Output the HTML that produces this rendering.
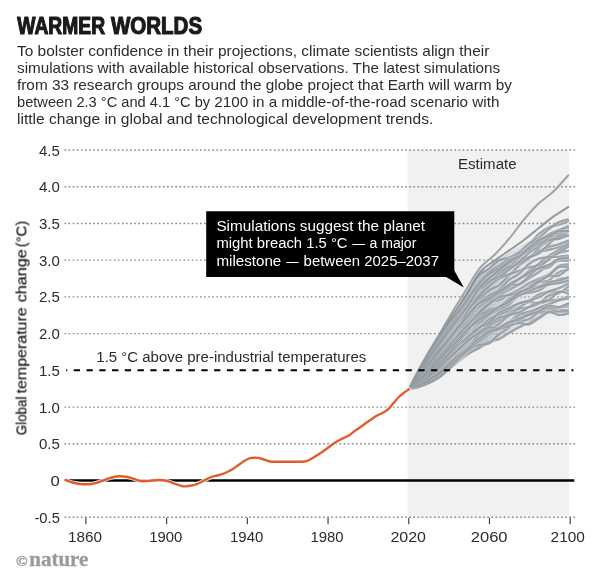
<!DOCTYPE html>
<html lang="en"><head><meta charset="utf-8"><title>Warmer worlds</title>
<style>
html,body{margin:0;padding:0;background:#fff;}
body{width:600px;height:583px;overflow:hidden;font-family:"Liberation Sans",sans-serif;}
svg{display:block;}
text{filter:url(#noaa);}
text{font-family:"Liberation Sans",sans-serif;fill:#2c2c2c;}
.t13{font-size:14px;}
.body{font-size:14.3px;}
.title{font-weight:bold;font-size:23.7px;fill:#1a1a1a;}
.logo text{font-family:"Liberation Serif",serif;font-weight:bold;fill:#9b9b9b;}
.white text{fill:#fff;}
</style></head><body>
<svg width="600" height="583" viewBox="0 0 600 583">
<rect width="600" height="583" fill="#fff"/>
<text class="title" y="34.3" stroke="#1a1a1a" stroke-width="1.15" stroke-linejoin="round"><tspan x="17.3" textLength="87.8" lengthAdjust="spacingAndGlyphs">WARMER</tspan> <tspan x="110.9" textLength="91.2" lengthAdjust="spacingAndGlyphs">WORLDS</tspan></text>
<g class="body">
<text x="17" y="55.7" textLength="472.3" lengthAdjust="spacingAndGlyphs">To bolster confidence in their projections, climate scientists align their</text>
<text x="17" y="72.8" textLength="483.2" lengthAdjust="spacingAndGlyphs">simulations with available historical observations. The latest simulations</text>
<text x="17" y="89.9" textLength="495.0" lengthAdjust="spacingAndGlyphs">from 33 research groups around the globe project that Earth will warm by</text>
<text y="107.0"><tspan x="17" textLength="193.2" lengthAdjust="spacingAndGlyphs">between 2.3 °C and 4.1 °C by</tspan> <tspan x="214.3" textLength="285.2" lengthAdjust="spacingAndGlyphs">2100 in a middle-of-the-road scenario with</tspan></text>
<text x="17" y="124.1" textLength="416.3" lengthAdjust="spacingAndGlyphs">little change in global and technological development trends.</text>
</g>
<rect x="407.6" y="150" width="161.4" height="367.3" fill="#f1f1f1"/>
<g stroke="#858585" stroke-width="1.35" stroke-dasharray="1.6 2.505" fill="none"><line x1="64.5" x2="575.2" y1="150.02" y2="150.02"/><line x1="64.5" x2="575.2" y1="186.74" y2="186.74"/><line x1="64.5" x2="575.2" y1="223.46" y2="223.46"/><line x1="64.5" x2="575.2" y1="260.18" y2="260.18"/><line x1="64.5" x2="575.2" y1="296.90" y2="296.90"/><line x1="64.5" x2="575.2" y1="333.62" y2="333.62"/><line x1="64.5" x2="575.2" y1="407.06" y2="407.06"/><line x1="64.5" x2="575.2" y1="443.78" y2="443.78"/><line x1="64.5" x2="575.2" y1="517.22" y2="517.22"/></g>
<g stroke="#333" stroke-width="1.1"><line x1="85.90" x2="85.90" y1="517.8" y2="524.2"/><line x1="166.62" x2="166.62" y1="517.8" y2="524.2"/><line x1="247.33" x2="247.33" y1="517.8" y2="524.2"/><line x1="328.05" x2="328.05" y1="517.8" y2="524.2"/><line x1="408.77" x2="408.77" y1="517.8" y2="524.2"/><line x1="489.48" x2="489.48" y1="517.8" y2="524.2"/><line x1="570.20" x2="570.20" y1="517.8" y2="524.2"/></g>
<g class="t13"><text x="38.9" y="155.52" textLength="20.9" lengthAdjust="spacingAndGlyphs">4.5</text><text x="38.9" y="192.24" textLength="20.9" lengthAdjust="spacingAndGlyphs">4.0</text><text x="38.9" y="228.96" textLength="20.9" lengthAdjust="spacingAndGlyphs">3.5</text><text x="38.9" y="265.68" textLength="20.9" lengthAdjust="spacingAndGlyphs">3.0</text><text x="38.9" y="302.40" textLength="20.9" lengthAdjust="spacingAndGlyphs">2.5</text><text x="38.9" y="339.12" textLength="20.9" lengthAdjust="spacingAndGlyphs">2.0</text><text x="38.9" y="375.84" textLength="20.9" lengthAdjust="spacingAndGlyphs">1.5</text><text x="38.9" y="412.56" textLength="20.9" lengthAdjust="spacingAndGlyphs">1.0</text><text x="38.9" y="449.28" textLength="20.9" lengthAdjust="spacingAndGlyphs">0.5</text><text x="50.6" y="486.00" textLength="9.3" lengthAdjust="spacingAndGlyphs">0</text><text x="34.4" y="522.72" textLength="25.5" lengthAdjust="spacingAndGlyphs">-0.5</text><text x="68.0" y="541.5" textLength="33.9" lengthAdjust="spacingAndGlyphs">1860</text><text x="149.2" y="541.5" textLength="33.2" lengthAdjust="spacingAndGlyphs">1900</text><text x="230.0" y="541.5" textLength="33.3" lengthAdjust="spacingAndGlyphs">1940</text><text x="310.4" y="541.5" textLength="33.2" lengthAdjust="spacingAndGlyphs">1980</text><text x="390.4" y="541.5" textLength="35.6" lengthAdjust="spacingAndGlyphs">2020</text><text x="470.7" y="541.5" textLength="36.9" lengthAdjust="spacingAndGlyphs">2060</text><text x="550.6" y="541.5" textLength="34.3" lengthAdjust="spacingAndGlyphs">2100</text>
<text x="458.0" y="169.3" textLength="58.6" lengthAdjust="spacingAndGlyphs">Estimate</text>
<text x="96.3" y="362.4" textLength="270" lengthAdjust="spacingAndGlyphs">1.5 °C above pre-industrial temperatures</text>
<text transform="translate(26.4,434.5) rotate(-90)" style="fill:#111" stroke="#111" stroke-width="0.15"><tspan x="-0.7" textLength="38.6" lengthAdjust="spacingAndGlyphs">Global</tspan> <tspan x="41.0" textLength="86.2" lengthAdjust="spacingAndGlyphs">temperature</tspan> <tspan x="132.2" textLength="53.2" lengthAdjust="spacingAndGlyphs">change</tspan> <tspan x="187.2" textLength="26.6" lengthAdjust="spacingAndGlyphs">(°C)</tspan></text>
</g>
<line x1="65.4" x2="574.3" y1="480.5" y2="480.5" stroke="#000" stroke-width="2.6"/>
<defs><filter id="noaa" x="-5%" y="-20%" width="110%" height="140%" color-interpolation-filters="sRGB"><feOffset dx="0" dy="0"/></filter><linearGradient id="wg" gradientUnits="userSpaceOnUse" x1="409" y1="0" x2="569" y2="0"><stop offset="0" stop-color="#8f979e" stop-opacity="0.9"/><stop offset="0.45" stop-color="#959da4" stop-opacity="0.65"/><stop offset="0.75" stop-color="#b9c1c8" stop-opacity="0.2"/><stop offset="1" stop-color="#c5ccd3" stop-opacity="0.08"/></linearGradient><linearGradient id="wg2" gradientUnits="userSpaceOnUse" x1="409" y1="0" x2="462" y2="0"><stop offset="0" stop-color="#9199a0" stop-opacity="0.85"/><stop offset="0.5" stop-color="#949ca3" stop-opacity="0.5"/><stop offset="1" stop-color="#9aa2a9" stop-opacity="0"/></linearGradient></defs>
<path d="M408.8,389.2 L414,378.5 L420,367 L427,354 L433.3,344 L441,331 L450,318.5 L466.7,293.5 L480,274 L494.6,262 L509.2,252.5 L523.7,243.5 L538.3,233.5 L552.9,224.5 L569,217 L569,313 L550,317.5 L530,322.5 L516.7,329 L505,335.5 L496.7,340.8 L485,346 L471.7,353.3 L458.3,362.7 L449,370.4 L445,374 L438.3,378.7 L431.7,382.7 L418.3,387.3 L408.8,389.2Z" fill="url(#wg)"/>
<g fill="none" stroke="#8f979e" stroke-opacity="0.86" stroke-width="2.45" stroke-linejoin="round" stroke-linecap="butt"><path d="M408.8,389.2C410.5,386.0 415.5,376.2 418.8,370.2C422.1,364.1 425.5,358.2 428.8,352.7C432.1,347.2 435.5,342.0 438.8,337.0C442.2,331.9 445.5,327.2 448.8,322.4C452.2,317.7 455.5,313.0 458.8,308.4C462.2,303.9 465.5,299.5 468.8,295.0C472.2,290.5 475.5,285.1 478.8,281.6C482.2,278.0 485.5,275.7 488.9,273.6C492.2,271.5 495.5,270.8 498.9,269.0C502.2,267.2 505.5,265.2 508.9,262.8C512.2,260.4 515.5,257.5 518.9,254.6C522.2,251.7 525.5,248.9 528.9,245.4C532.2,242.0 535.5,236.9 538.9,233.9C542.2,230.9 545.6,228.9 548.9,227.4C552.2,225.8 555.6,225.6 558.9,224.6C562.2,223.5 567.2,221.6 568.9,221.1" stroke="#fff" stroke-opacity="0.4" stroke-width="3.5"/><path d="M408.8,389.2C410.5,386.0 415.5,376.2 418.8,370.2C422.1,364.1 425.5,358.2 428.8,352.7C432.1,347.2 435.5,342.0 438.8,337.0C442.2,331.9 445.5,327.2 448.8,322.4C452.2,317.7 455.5,313.0 458.8,308.4C462.2,303.9 465.5,299.5 468.8,295.0C472.2,290.5 475.5,285.1 478.8,281.6C482.2,278.0 485.5,275.7 488.9,273.6C492.2,271.5 495.5,270.8 498.9,269.0C502.2,267.2 505.5,265.2 508.9,262.8C512.2,260.4 515.5,257.5 518.9,254.6C522.2,251.7 525.5,248.9 528.9,245.4C532.2,242.0 535.5,236.9 538.9,233.9C542.2,230.9 545.6,228.9 548.9,227.4C552.2,225.8 555.6,225.6 558.9,224.6C562.2,223.5 567.2,221.6 568.9,221.1"/><path d="M408.8,389.2C410.5,386.6 415.5,378.7 418.8,373.7C422.1,368.7 425.5,363.8 428.8,359.2C432.1,354.6 435.5,350.3 438.8,346.0C442.2,341.6 445.5,337.6 448.8,333.2C452.2,328.8 455.5,324.1 458.8,319.7C462.2,315.3 465.5,310.9 468.8,306.9C472.2,302.8 475.5,299.1 478.8,295.3C482.2,291.4 485.5,287.1 488.9,283.6C492.2,280.1 495.5,276.9 498.9,274.3C502.2,271.6 505.5,270.3 508.9,267.7C512.2,265.2 515.5,260.9 518.9,259.1C522.2,257.3 525.5,258.2 528.9,257.0C532.2,255.7 535.5,253.0 538.9,251.8C542.2,250.6 545.6,250.5 548.9,249.7C552.2,249.0 555.6,248.5 558.9,247.2C562.2,246.0 567.2,243.3 568.9,242.5" stroke="#fff" stroke-opacity="0.4" stroke-width="3.5"/><path d="M408.8,389.2C410.5,386.6 415.5,378.7 418.8,373.7C422.1,368.7 425.5,363.8 428.8,359.2C432.1,354.6 435.5,350.3 438.8,346.0C442.2,341.6 445.5,337.6 448.8,333.2C452.2,328.8 455.5,324.1 458.8,319.7C462.2,315.3 465.5,310.9 468.8,306.9C472.2,302.8 475.5,299.1 478.8,295.3C482.2,291.4 485.5,287.1 488.9,283.6C492.2,280.1 495.5,276.9 498.9,274.3C502.2,271.6 505.5,270.3 508.9,267.7C512.2,265.2 515.5,260.9 518.9,259.1C522.2,257.3 525.5,258.2 528.9,257.0C532.2,255.7 535.5,253.0 538.9,251.8C542.2,250.6 545.6,250.5 548.9,249.7C552.2,249.0 555.6,248.5 558.9,247.2C562.2,246.0 567.2,243.3 568.9,242.5"/><path d="M408.8,389.2C410.5,386.7 415.5,379.0 418.8,374.1C422.1,369.2 425.5,364.6 428.8,360.0C432.1,355.4 435.5,350.6 438.8,346.4C442.2,342.2 445.5,339.0 448.8,334.9C452.2,330.7 455.5,325.8 458.8,321.5C462.2,317.1 465.5,312.4 468.8,308.7C472.2,305.0 475.5,302.5 478.8,299.4C482.2,296.4 485.5,292.7 488.9,290.4C492.2,288.1 495.5,287.8 498.9,285.4C502.2,283.0 505.5,279.0 508.9,275.7C512.2,272.5 515.5,268.5 518.9,265.7C522.2,262.9 525.5,261.7 528.9,258.8C532.2,255.8 535.5,250.9 538.9,247.9C542.2,244.9 545.6,242.8 548.9,240.7C552.2,238.7 555.6,237.2 558.9,235.5C562.2,233.8 567.2,231.3 568.9,230.5" stroke="#fff" stroke-opacity="0.4" stroke-width="3.5"/><path d="M408.8,389.2C410.5,386.7 415.5,379.0 418.8,374.1C422.1,369.2 425.5,364.6 428.8,360.0C432.1,355.4 435.5,350.6 438.8,346.4C442.2,342.2 445.5,339.0 448.8,334.9C452.2,330.7 455.5,325.8 458.8,321.5C462.2,317.1 465.5,312.4 468.8,308.7C472.2,305.0 475.5,302.5 478.8,299.4C482.2,296.4 485.5,292.7 488.9,290.4C492.2,288.1 495.5,287.8 498.9,285.4C502.2,283.0 505.5,279.0 508.9,275.7C512.2,272.5 515.5,268.5 518.9,265.7C522.2,262.9 525.5,261.7 528.9,258.8C532.2,255.8 535.5,250.9 538.9,247.9C542.2,244.9 545.6,242.8 548.9,240.7C552.2,238.7 555.6,237.2 558.9,235.5C562.2,233.8 567.2,231.3 568.9,230.5"/><path d="M408.8,389.2C410.5,387.3 415.5,381.7 418.8,378.0C422.1,374.4 425.5,370.8 428.8,367.2C432.1,363.7 435.5,360.4 438.8,356.7C442.2,353.0 445.5,349.0 448.8,345.1C452.2,341.1 455.5,336.8 458.8,332.9C462.2,328.9 465.5,324.9 468.8,321.4C472.2,318.0 475.5,315.4 478.8,312.2C482.2,309.0 485.5,304.4 488.9,302.4C492.2,300.4 495.5,301.5 498.9,300.2C502.2,298.9 505.5,296.3 508.9,294.6C512.2,292.8 515.5,291.7 518.9,289.8C522.2,288.0 525.5,285.2 528.9,283.4C532.2,281.5 535.5,280.2 538.9,278.7C542.2,277.2 545.6,276.4 548.9,274.3C552.2,272.2 555.6,267.6 558.9,265.9C562.2,264.3 567.2,264.6 568.9,264.3" stroke="#fff" stroke-opacity="0.4" stroke-width="3.5"/><path d="M408.8,389.2C410.5,387.3 415.5,381.7 418.8,378.0C422.1,374.4 425.5,370.8 428.8,367.2C432.1,363.7 435.5,360.4 438.8,356.7C442.2,353.0 445.5,349.0 448.8,345.1C452.2,341.1 455.5,336.8 458.8,332.9C462.2,328.9 465.5,324.9 468.8,321.4C472.2,318.0 475.5,315.4 478.8,312.2C482.2,309.0 485.5,304.4 488.9,302.4C492.2,300.4 495.5,301.5 498.9,300.2C502.2,298.9 505.5,296.3 508.9,294.6C512.2,292.8 515.5,291.7 518.9,289.8C522.2,288.0 525.5,285.2 528.9,283.4C532.2,281.5 535.5,280.2 538.9,278.7C542.2,277.2 545.6,276.4 548.9,274.3C552.2,272.2 555.6,267.6 558.9,265.9C562.2,264.3 567.2,264.6 568.9,264.3"/><path d="M408.8,389.2C410.5,386.7 415.5,379.3 418.8,374.4C422.1,369.4 425.5,364.3 428.8,359.5C432.1,354.6 435.5,349.8 438.8,345.3C442.2,340.8 445.5,337.2 448.8,332.6C452.2,328.0 455.5,322.2 458.8,317.8C462.2,313.3 465.5,309.8 468.8,306.0C472.2,302.2 475.5,298.4 478.8,294.9C482.2,291.4 485.5,288.3 488.9,285.0C492.2,281.8 495.5,278.5 498.9,275.3C502.2,272.2 505.5,268.2 508.9,266.1C512.2,264.1 515.5,264.4 518.9,262.9C522.2,261.5 525.5,259.5 528.9,257.6C532.2,255.6 535.5,252.9 538.9,251.1C542.2,249.3 545.6,247.9 548.9,246.8C552.2,245.7 555.6,245.4 558.9,244.3C562.2,243.2 567.2,241.0 568.9,240.3" stroke="#fff" stroke-opacity="0.4" stroke-width="3.5"/><path d="M408.8,389.2C410.5,386.7 415.5,379.3 418.8,374.4C422.1,369.4 425.5,364.3 428.8,359.5C432.1,354.6 435.5,349.8 438.8,345.3C442.2,340.8 445.5,337.2 448.8,332.6C452.2,328.0 455.5,322.2 458.8,317.8C462.2,313.3 465.5,309.8 468.8,306.0C472.2,302.2 475.5,298.4 478.8,294.9C482.2,291.4 485.5,288.3 488.9,285.0C492.2,281.8 495.5,278.5 498.9,275.3C502.2,272.2 505.5,268.2 508.9,266.1C512.2,264.1 515.5,264.4 518.9,262.9C522.2,261.5 525.5,259.5 528.9,257.6C532.2,255.6 535.5,252.9 538.9,251.1C542.2,249.3 545.6,247.9 548.9,246.8C552.2,245.7 555.6,245.4 558.9,244.3C562.2,243.2 567.2,241.0 568.9,240.3"/><path d="M408.8,389.2C410.5,388.4 415.5,385.9 418.8,384.3C422.1,382.6 425.5,381.1 428.8,379.1C432.1,377.1 435.5,374.6 438.8,372.0C442.2,369.5 445.5,366.9 448.8,364.0C452.2,361.1 455.5,357.6 458.8,354.8C462.2,352.0 465.5,349.4 468.8,347.3C472.2,345.3 475.5,345.0 478.8,342.5C482.2,340.0 485.5,334.7 488.9,332.3C492.2,330.0 495.5,329.9 498.9,328.4C502.2,326.8 505.5,325.4 508.9,323.0C512.2,320.6 515.5,315.2 518.9,313.9C522.2,312.5 525.5,315.3 528.9,315.0C532.2,314.7 535.5,312.9 538.9,312.0C542.2,311.2 545.6,310.1 548.9,309.8C552.2,309.5 555.6,310.4 558.9,310.4C562.2,310.4 567.2,309.9 568.9,309.9" stroke="#fff" stroke-opacity="0.4" stroke-width="3.5"/><path d="M408.8,389.2C410.5,388.4 415.5,385.9 418.8,384.3C422.1,382.6 425.5,381.1 428.8,379.1C432.1,377.1 435.5,374.6 438.8,372.0C442.2,369.5 445.5,366.9 448.8,364.0C452.2,361.1 455.5,357.6 458.8,354.8C462.2,352.0 465.5,349.4 468.8,347.3C472.2,345.3 475.5,345.0 478.8,342.5C482.2,340.0 485.5,334.7 488.9,332.3C492.2,330.0 495.5,329.9 498.9,328.4C502.2,326.8 505.5,325.4 508.9,323.0C512.2,320.6 515.5,315.2 518.9,313.9C522.2,312.5 525.5,315.3 528.9,315.0C532.2,314.7 535.5,312.9 538.9,312.0C542.2,311.2 545.6,310.1 548.9,309.8C552.2,309.5 555.6,310.4 558.9,310.4C562.2,310.4 567.2,309.9 568.9,309.9"/><path d="M408.8,389.2C410.5,386.9 415.5,380.1 418.8,375.6C422.1,371.2 425.5,366.9 428.8,362.6C432.1,358.2 435.5,353.7 438.8,349.6C442.2,345.5 445.5,342.0 448.8,337.9C452.2,333.8 455.5,329.8 458.8,325.0C462.2,320.3 465.5,314.1 468.8,309.4C472.2,304.7 475.5,300.6 478.8,296.8C482.2,293.1 485.5,289.7 488.9,286.7C492.2,283.6 495.5,280.7 498.9,278.7C502.2,276.6 505.5,275.7 508.9,274.4C512.2,273.0 515.5,271.9 518.9,270.8C522.2,269.6 525.5,268.4 528.9,267.4C532.2,266.5 535.5,266.8 538.9,265.1C542.2,263.5 545.6,259.7 548.9,257.6C552.2,255.6 555.6,253.9 558.9,252.8C562.2,251.6 567.2,251.0 568.9,250.6" stroke="#fff" stroke-opacity="0.4" stroke-width="3.5"/><path d="M408.8,389.2C410.5,386.9 415.5,380.1 418.8,375.6C422.1,371.2 425.5,366.9 428.8,362.6C432.1,358.2 435.5,353.7 438.8,349.6C442.2,345.5 445.5,342.0 448.8,337.9C452.2,333.8 455.5,329.8 458.8,325.0C462.2,320.3 465.5,314.1 468.8,309.4C472.2,304.7 475.5,300.6 478.8,296.8C482.2,293.1 485.5,289.7 488.9,286.7C492.2,283.6 495.5,280.7 498.9,278.7C502.2,276.6 505.5,275.7 508.9,274.4C512.2,273.0 515.5,271.9 518.9,270.8C522.2,269.6 525.5,268.4 528.9,267.4C532.2,266.5 535.5,266.8 538.9,265.1C542.2,263.5 545.6,259.7 548.9,257.6C552.2,255.6 555.6,253.9 558.9,252.8C562.2,251.6 567.2,251.0 568.9,250.6"/><path d="M408.8,389.2C410.5,388.7 415.5,387.4 418.8,386.1C422.1,384.7 425.5,383.2 428.8,381.3C432.1,379.4 435.5,377.3 438.8,374.8C442.2,372.3 445.5,369.3 448.8,366.3C452.2,363.3 455.5,359.7 458.8,356.7C462.2,353.7 465.5,350.6 468.8,348.1C472.2,345.5 475.5,343.7 478.8,341.4C482.2,339.1 485.5,336.7 488.9,334.3C492.2,332.0 495.5,329.1 498.9,327.2C502.2,325.3 505.5,323.9 508.9,322.9C512.2,322.0 515.5,322.2 518.9,321.5C522.2,320.9 525.5,320.5 528.9,319.1C532.2,317.6 535.5,314.1 538.9,312.9C542.2,311.7 545.6,312.7 548.9,311.8C552.2,310.9 555.6,308.5 558.9,307.6C562.2,306.6 567.2,306.5 568.9,306.2" stroke="#fff" stroke-opacity="0.4" stroke-width="3.5"/><path d="M408.8,389.2C410.5,388.7 415.5,387.4 418.8,386.1C422.1,384.7 425.5,383.2 428.8,381.3C432.1,379.4 435.5,377.3 438.8,374.8C442.2,372.3 445.5,369.3 448.8,366.3C452.2,363.3 455.5,359.7 458.8,356.7C462.2,353.7 465.5,350.6 468.8,348.1C472.2,345.5 475.5,343.7 478.8,341.4C482.2,339.1 485.5,336.7 488.9,334.3C492.2,332.0 495.5,329.1 498.9,327.2C502.2,325.3 505.5,323.9 508.9,322.9C512.2,322.0 515.5,322.2 518.9,321.5C522.2,320.9 525.5,320.5 528.9,319.1C532.2,317.6 535.5,314.1 538.9,312.9C542.2,311.7 545.6,312.7 548.9,311.8C552.2,310.9 555.6,308.5 558.9,307.6C562.2,306.6 567.2,306.5 568.9,306.2"/><path d="M408.8,389.2C410.5,387.2 415.5,381.2 418.8,377.3C422.1,373.3 425.5,369.5 428.8,365.6C432.1,361.6 435.5,357.2 438.8,353.4C442.2,349.6 445.5,346.6 448.8,342.8C452.2,339.1 455.5,334.4 458.8,330.7C462.2,327.1 465.5,324.1 468.8,320.9C472.2,317.7 475.5,314.6 478.8,311.5C482.2,308.5 485.5,305.1 488.9,302.6C492.2,300.0 495.5,298.4 498.9,296.3C502.2,294.1 505.5,291.7 508.9,289.8C512.2,287.9 515.5,286.7 518.9,284.8C522.2,282.9 525.5,280.7 528.9,278.5C532.2,276.4 535.5,274.3 538.9,272.0C542.2,269.8 545.6,267.0 548.9,265.2C552.2,263.3 555.6,261.6 558.9,260.9C562.2,260.2 567.2,260.9 568.9,260.9" stroke="#fff" stroke-opacity="0.4" stroke-width="3.5"/><path d="M408.8,389.2C410.5,387.2 415.5,381.2 418.8,377.3C422.1,373.3 425.5,369.5 428.8,365.6C432.1,361.6 435.5,357.2 438.8,353.4C442.2,349.6 445.5,346.6 448.8,342.8C452.2,339.1 455.5,334.4 458.8,330.7C462.2,327.1 465.5,324.1 468.8,320.9C472.2,317.7 475.5,314.6 478.8,311.5C482.2,308.5 485.5,305.1 488.9,302.6C492.2,300.0 495.5,298.4 498.9,296.3C502.2,294.1 505.5,291.7 508.9,289.8C512.2,287.9 515.5,286.7 518.9,284.8C522.2,282.9 525.5,280.7 528.9,278.5C532.2,276.4 535.5,274.3 538.9,272.0C542.2,269.8 545.6,267.0 548.9,265.2C552.2,263.3 555.6,261.6 558.9,260.9C562.2,260.2 567.2,260.9 568.9,260.9"/><path d="M408.8,389.2C410.5,388.6 415.5,386.8 418.8,385.5C422.1,384.2 425.5,383.1 428.8,381.4C432.1,379.7 435.5,377.9 438.8,375.4C442.2,372.9 445.5,369.2 448.8,366.4C452.2,363.6 455.5,361.0 458.8,358.8C462.2,356.5 465.5,354.9 468.8,353.1C472.2,351.3 475.5,350.0 478.8,348.1C482.2,346.2 485.5,343.3 488.9,341.8C492.2,340.3 495.5,340.5 498.9,339.1C502.2,337.6 505.5,334.9 508.9,333.0C512.2,331.0 515.5,328.9 518.9,327.3C522.2,325.6 525.5,324.7 528.9,323.0C532.2,321.2 535.5,318.8 538.9,317.0C542.2,315.2 545.6,312.8 548.9,311.9C552.2,311.0 555.6,311.7 558.9,311.6C562.2,311.5 567.2,311.4 568.9,311.3" stroke="#fff" stroke-opacity="0.4" stroke-width="3.5"/><path d="M408.8,389.2C410.5,388.6 415.5,386.8 418.8,385.5C422.1,384.2 425.5,383.1 428.8,381.4C432.1,379.7 435.5,377.9 438.8,375.4C442.2,372.9 445.5,369.2 448.8,366.4C452.2,363.6 455.5,361.0 458.8,358.8C462.2,356.5 465.5,354.9 468.8,353.1C472.2,351.3 475.5,350.0 478.8,348.1C482.2,346.2 485.5,343.3 488.9,341.8C492.2,340.3 495.5,340.5 498.9,339.1C502.2,337.6 505.5,334.9 508.9,333.0C512.2,331.0 515.5,328.9 518.9,327.3C522.2,325.6 525.5,324.7 528.9,323.0C532.2,321.2 535.5,318.8 538.9,317.0C542.2,315.2 545.6,312.8 548.9,311.9C552.2,311.0 555.6,311.7 558.9,311.6C562.2,311.5 567.2,311.4 568.9,311.3"/><path d="M408.8,389.2C410.5,388.2 415.5,385.5 418.8,383.4C422.1,381.3 425.5,378.8 428.8,376.3C432.1,373.8 435.5,371.4 438.8,368.4C442.2,365.5 445.5,362.0 448.8,358.6C452.2,355.3 455.5,351.6 458.8,348.5C462.2,345.3 465.5,342.9 468.8,340.0C472.2,337.1 475.5,333.4 478.8,331.1C482.2,328.8 485.5,327.9 488.9,326.1C492.2,324.3 495.5,322.5 498.9,320.3C502.2,318.1 505.5,315.0 508.9,312.9C512.2,310.7 515.5,309.2 518.9,307.4C522.2,305.6 525.5,302.8 528.9,302.1C532.2,301.5 535.5,303.5 538.9,303.3C542.2,303.1 545.6,301.5 548.9,300.9C552.2,300.2 555.6,300.2 558.9,299.4C562.2,298.6 567.2,296.8 568.9,296.2" stroke="#fff" stroke-opacity="0.4" stroke-width="3.5"/><path d="M408.8,389.2C410.5,388.2 415.5,385.5 418.8,383.4C422.1,381.3 425.5,378.8 428.8,376.3C432.1,373.8 435.5,371.4 438.8,368.4C442.2,365.5 445.5,362.0 448.8,358.6C452.2,355.3 455.5,351.6 458.8,348.5C462.2,345.3 465.5,342.9 468.8,340.0C472.2,337.1 475.5,333.4 478.8,331.1C482.2,328.8 485.5,327.9 488.9,326.1C492.2,324.3 495.5,322.5 498.9,320.3C502.2,318.1 505.5,315.0 508.9,312.9C512.2,310.7 515.5,309.2 518.9,307.4C522.2,305.6 525.5,302.8 528.9,302.1C532.2,301.5 535.5,303.5 538.9,303.3C542.2,303.1 545.6,301.5 548.9,300.9C552.2,300.2 555.6,300.2 558.9,299.4C562.2,298.6 567.2,296.8 568.9,296.2"/><path d="M408.8,389.2C410.5,388.7 415.5,387.5 418.8,386.3C422.1,385.2 425.5,383.8 428.8,382.2C432.1,380.6 435.5,379.2 438.8,376.7C442.2,374.2 445.5,370.2 448.8,367.3C452.2,364.3 455.5,361.7 458.8,358.9C462.2,356.1 465.5,352.6 468.8,350.3C472.2,348.0 475.5,346.1 478.8,345.0C482.2,343.9 485.5,345.2 488.9,343.5C492.2,341.7 495.5,337.2 498.9,334.5C502.2,331.8 505.5,330.5 508.9,327.3C512.2,324.0 515.5,317.7 518.9,315.1C522.2,312.5 525.5,312.7 528.9,311.6C532.2,310.5 535.5,309.2 538.9,308.6C542.2,308.0 545.6,308.2 548.9,308.0C552.2,307.8 555.6,308.5 558.9,307.7C562.2,306.8 567.2,303.8 568.9,303.0" stroke="#fff" stroke-opacity="0.4" stroke-width="3.5"/><path d="M408.8,389.2C410.5,388.7 415.5,387.5 418.8,386.3C422.1,385.2 425.5,383.8 428.8,382.2C432.1,380.6 435.5,379.2 438.8,376.7C442.2,374.2 445.5,370.2 448.8,367.3C452.2,364.3 455.5,361.7 458.8,358.9C462.2,356.1 465.5,352.6 468.8,350.3C472.2,348.0 475.5,346.1 478.8,345.0C482.2,343.9 485.5,345.2 488.9,343.5C492.2,341.7 495.5,337.2 498.9,334.5C502.2,331.8 505.5,330.5 508.9,327.3C512.2,324.0 515.5,317.7 518.9,315.1C522.2,312.5 525.5,312.7 528.9,311.6C532.2,310.5 535.5,309.2 538.9,308.6C542.2,308.0 545.6,308.2 548.9,308.0C552.2,307.8 555.6,308.5 558.9,307.7C562.2,306.8 567.2,303.8 568.9,303.0"/><path d="M408.8,389.2C410.5,388.1 415.5,384.7 418.8,382.3C422.1,379.9 425.5,377.4 428.8,374.8C432.1,372.3 435.5,369.8 438.8,366.9C442.2,364.0 445.5,360.9 448.8,357.5C452.2,354.1 455.5,349.8 458.8,346.7C462.2,343.7 465.5,342.0 468.8,339.0C472.2,336.0 475.5,332.0 478.8,328.8C482.2,325.5 485.5,321.9 488.9,319.5C492.2,317.2 495.5,316.4 498.9,314.8C502.2,313.2 505.5,312.0 508.9,310.1C512.2,308.2 515.5,304.9 518.9,303.4C522.2,301.9 525.5,302.7 528.9,301.1C532.2,299.6 535.5,295.9 538.9,294.3C542.2,292.7 545.6,292.1 548.9,291.7C552.2,291.2 555.6,292.1 558.9,291.8C562.2,291.6 567.2,290.5 568.9,290.2" stroke="#fff" stroke-opacity="0.4" stroke-width="3.5"/><path d="M408.8,389.2C410.5,388.1 415.5,384.7 418.8,382.3C422.1,379.9 425.5,377.4 428.8,374.8C432.1,372.3 435.5,369.8 438.8,366.9C442.2,364.0 445.5,360.9 448.8,357.5C452.2,354.1 455.5,349.8 458.8,346.7C462.2,343.7 465.5,342.0 468.8,339.0C472.2,336.0 475.5,332.0 478.8,328.8C482.2,325.5 485.5,321.9 488.9,319.5C492.2,317.2 495.5,316.4 498.9,314.8C502.2,313.2 505.5,312.0 508.9,310.1C512.2,308.2 515.5,304.9 518.9,303.4C522.2,301.9 525.5,302.7 528.9,301.1C532.2,299.6 535.5,295.9 538.9,294.3C542.2,292.7 545.6,292.1 548.9,291.7C552.2,291.2 555.6,292.1 558.9,291.8C562.2,291.6 567.2,290.5 568.9,290.2"/><path d="M408.8,389.2C410.5,386.2 415.5,376.8 418.8,371.0C422.1,365.2 425.5,359.6 428.8,354.5C432.1,349.3 435.5,344.5 438.8,339.9C442.2,335.2 445.5,331.3 448.8,326.6C452.2,321.9 455.5,316.3 458.8,311.7C462.2,307.1 465.5,303.1 468.8,299.1C472.2,295.1 475.5,290.8 478.8,287.8C482.2,284.8 485.5,283.3 488.9,281.0C492.2,278.8 495.5,276.5 498.9,274.3C502.2,272.1 505.5,270.7 508.9,267.8C512.2,264.8 515.5,260.1 518.9,256.6C522.2,253.1 525.5,249.3 528.9,246.8C532.2,244.4 535.5,243.7 538.9,242.0C542.2,240.3 545.6,237.5 548.9,236.9C552.2,236.3 555.6,239.6 558.9,238.5C562.2,237.4 567.2,231.7 568.9,230.4" stroke="#fff" stroke-opacity="0.4" stroke-width="3.5"/><path d="M408.8,389.2C410.5,386.2 415.5,376.8 418.8,371.0C422.1,365.2 425.5,359.6 428.8,354.5C432.1,349.3 435.5,344.5 438.8,339.9C442.2,335.2 445.5,331.3 448.8,326.6C452.2,321.9 455.5,316.3 458.8,311.7C462.2,307.1 465.5,303.1 468.8,299.1C472.2,295.1 475.5,290.8 478.8,287.8C482.2,284.8 485.5,283.3 488.9,281.0C492.2,278.8 495.5,276.5 498.9,274.3C502.2,272.1 505.5,270.7 508.9,267.8C512.2,264.8 515.5,260.1 518.9,256.6C522.2,253.1 525.5,249.3 528.9,246.8C532.2,244.4 535.5,243.7 538.9,242.0C542.2,240.3 545.6,237.5 548.9,236.9C552.2,236.3 555.6,239.6 558.9,238.5C562.2,237.4 567.2,231.7 568.9,230.4"/><path d="M408.8,389.2C410.5,388.2 415.5,385.2 418.8,383.2C422.1,381.1 425.5,379.3 428.8,376.9C432.1,374.4 435.5,371.3 438.8,368.3C442.2,365.3 445.5,362.1 448.8,359.0C452.2,355.9 455.5,352.7 458.8,349.6C462.2,346.6 465.5,343.3 468.8,340.5C472.2,337.7 475.5,335.6 478.8,333.0C482.2,330.3 485.5,327.1 488.9,324.5C492.2,321.9 495.5,319.1 498.9,317.6C502.2,316.1 505.5,316.7 508.9,315.3C512.2,313.8 515.5,310.1 518.9,308.8C522.2,307.5 525.5,308.2 528.9,307.3C532.2,306.5 535.5,305.7 538.9,303.7C542.2,301.8 545.6,297.2 548.9,295.4C552.2,293.7 555.6,294.8 558.9,293.2C562.2,291.7 567.2,287.3 568.9,286.1" stroke="#fff" stroke-opacity="0.4" stroke-width="3.5"/><path d="M408.8,389.2C410.5,388.2 415.5,385.2 418.8,383.2C422.1,381.1 425.5,379.3 428.8,376.9C432.1,374.4 435.5,371.3 438.8,368.3C442.2,365.3 445.5,362.1 448.8,359.0C452.2,355.9 455.5,352.7 458.8,349.6C462.2,346.6 465.5,343.3 468.8,340.5C472.2,337.7 475.5,335.6 478.8,333.0C482.2,330.3 485.5,327.1 488.9,324.5C492.2,321.9 495.5,319.1 498.9,317.6C502.2,316.1 505.5,316.7 508.9,315.3C512.2,313.8 515.5,310.1 518.9,308.8C522.2,307.5 525.5,308.2 528.9,307.3C532.2,306.5 535.5,305.7 538.9,303.7C542.2,301.8 545.6,297.2 548.9,295.4C552.2,293.7 555.6,294.8 558.9,293.2C562.2,291.7 567.2,287.3 568.9,286.1"/><path d="M408.8,389.2C410.5,388.5 415.5,386.3 418.8,384.8C422.1,383.2 425.5,381.6 428.8,379.7C432.1,377.8 435.5,375.8 438.8,373.1C442.2,370.4 445.5,366.6 448.8,363.6C452.2,360.7 455.5,358.2 458.8,355.5C462.2,352.7 465.5,350.5 468.8,347.1C472.2,343.6 475.5,337.8 478.8,334.9C482.2,332.1 485.5,331.8 488.9,330.0C492.2,328.1 495.5,326.5 498.9,324.0C502.2,321.6 505.5,317.1 508.9,315.1C512.2,313.2 515.5,313.8 518.9,312.4C522.2,311.1 525.5,308.7 528.9,307.0C532.2,305.4 535.5,303.6 538.9,302.4C542.2,301.2 545.6,301.7 548.9,299.9C552.2,298.2 555.6,292.8 558.9,291.8C562.2,290.8 567.2,293.4 568.9,293.7" stroke="#fff" stroke-opacity="0.4" stroke-width="3.5"/><path d="M408.8,389.2C410.5,388.5 415.5,386.3 418.8,384.8C422.1,383.2 425.5,381.6 428.8,379.7C432.1,377.8 435.5,375.8 438.8,373.1C442.2,370.4 445.5,366.6 448.8,363.6C452.2,360.7 455.5,358.2 458.8,355.5C462.2,352.7 465.5,350.5 468.8,347.1C472.2,343.6 475.5,337.8 478.8,334.9C482.2,332.1 485.5,331.8 488.9,330.0C492.2,328.1 495.5,326.5 498.9,324.0C502.2,321.6 505.5,317.1 508.9,315.1C512.2,313.2 515.5,313.8 518.9,312.4C522.2,311.1 525.5,308.7 528.9,307.0C532.2,305.4 535.5,303.6 538.9,302.4C542.2,301.2 545.6,301.7 548.9,299.9C552.2,298.2 555.6,292.8 558.9,291.8C562.2,290.8 567.2,293.4 568.9,293.7"/><path d="M408.8,389.2C410.5,387.4 415.5,381.9 418.8,378.3C422.1,374.8 425.5,371.2 428.8,367.7C432.1,364.1 435.5,360.5 438.8,356.9C442.2,353.2 445.5,349.6 448.8,345.9C452.2,342.2 455.5,338.1 458.8,334.5C462.2,331.0 465.5,328.3 468.8,324.6C472.2,320.9 475.5,316.0 478.8,312.5C482.2,309.0 485.5,306.4 488.9,303.7C492.2,301.1 495.5,299.1 498.9,296.4C502.2,293.6 505.5,290.0 508.9,287.1C512.2,284.3 515.5,281.9 518.9,279.2C522.2,276.6 525.5,273.6 528.9,271.0C532.2,268.5 535.5,266.4 538.9,263.9C542.2,261.4 545.6,258.1 548.9,255.8C552.2,253.5 555.6,251.9 558.9,249.9C562.2,247.9 567.2,244.9 568.9,243.9" stroke="#fff" stroke-opacity="0.4" stroke-width="3.5"/><path d="M408.8,389.2C410.5,387.4 415.5,381.9 418.8,378.3C422.1,374.8 425.5,371.2 428.8,367.7C432.1,364.1 435.5,360.5 438.8,356.9C442.2,353.2 445.5,349.6 448.8,345.9C452.2,342.2 455.5,338.1 458.8,334.5C462.2,331.0 465.5,328.3 468.8,324.6C472.2,320.9 475.5,316.0 478.8,312.5C482.2,309.0 485.5,306.4 488.9,303.7C492.2,301.1 495.5,299.1 498.9,296.4C502.2,293.6 505.5,290.0 508.9,287.1C512.2,284.3 515.5,281.9 518.9,279.2C522.2,276.6 525.5,273.6 528.9,271.0C532.2,268.5 535.5,266.4 538.9,263.9C542.2,261.4 545.6,258.1 548.9,255.8C552.2,253.5 555.6,251.9 558.9,249.9C562.2,247.9 567.2,244.9 568.9,243.9"/><path d="M408.8,389.2C410.5,387.9 415.5,384.2 418.8,381.6C422.1,379.0 425.5,376.4 428.8,373.6C432.1,370.7 435.5,367.7 438.8,364.6C442.2,361.4 445.5,357.8 448.8,354.5C452.2,351.2 455.5,347.8 458.8,344.7C462.2,341.7 465.5,339.0 468.8,336.2C472.2,333.4 475.5,330.0 478.8,327.7C482.2,325.5 485.5,325.2 488.9,322.7C492.2,320.2 495.5,315.1 498.9,312.7C502.2,310.2 505.5,309.7 508.9,308.2C512.2,306.6 515.5,304.7 518.9,303.4C522.2,302.2 525.5,301.7 528.9,300.7C532.2,299.6 535.5,298.7 538.9,297.2C542.2,295.6 545.6,292.9 548.9,291.4C552.2,289.9 555.6,289.6 558.9,288.2C562.2,286.8 567.2,284.0 568.9,283.2" stroke="#fff" stroke-opacity="0.4" stroke-width="3.5"/><path d="M408.8,389.2C410.5,387.9 415.5,384.2 418.8,381.6C422.1,379.0 425.5,376.4 428.8,373.6C432.1,370.7 435.5,367.7 438.8,364.6C442.2,361.4 445.5,357.8 448.8,354.5C452.2,351.2 455.5,347.8 458.8,344.7C462.2,341.7 465.5,339.0 468.8,336.2C472.2,333.4 475.5,330.0 478.8,327.7C482.2,325.5 485.5,325.2 488.9,322.7C492.2,320.2 495.5,315.1 498.9,312.7C502.2,310.2 505.5,309.7 508.9,308.2C512.2,306.6 515.5,304.7 518.9,303.4C522.2,302.2 525.5,301.7 528.9,300.7C532.2,299.6 535.5,298.7 538.9,297.2C542.2,295.6 545.6,292.9 548.9,291.4C552.2,289.9 555.6,289.6 558.9,288.2C562.2,286.8 567.2,284.0 568.9,283.2"/><path d="M408.8,389.2C410.5,387.6 415.5,382.7 418.8,379.4C422.1,376.2 425.5,372.8 428.8,369.6C432.1,366.4 435.5,363.6 438.8,360.1C442.2,356.7 445.5,352.8 448.8,349.0C452.2,345.3 455.5,341.4 458.8,337.9C462.2,334.4 465.5,331.4 468.8,328.1C472.2,324.8 475.5,320.7 478.8,318.0C482.2,315.2 485.5,313.2 488.9,311.6C492.2,310.0 495.5,309.7 498.9,308.4C502.2,307.0 505.5,305.7 508.9,303.4C512.2,301.2 515.5,297.3 518.9,294.7C522.2,292.2 525.5,290.3 528.9,288.2C532.2,286.1 535.5,283.5 538.9,282.2C542.2,280.9 545.6,282.0 548.9,280.3C552.2,278.6 555.6,274.0 558.9,272.2C562.2,270.3 567.2,269.5 568.9,269.0" stroke="#fff" stroke-opacity="0.4" stroke-width="3.5"/><path d="M408.8,389.2C410.5,387.6 415.5,382.7 418.8,379.4C422.1,376.2 425.5,372.8 428.8,369.6C432.1,366.4 435.5,363.6 438.8,360.1C442.2,356.7 445.5,352.8 448.8,349.0C452.2,345.3 455.5,341.4 458.8,337.9C462.2,334.4 465.5,331.4 468.8,328.1C472.2,324.8 475.5,320.7 478.8,318.0C482.2,315.2 485.5,313.2 488.9,311.6C492.2,310.0 495.5,309.7 498.9,308.4C502.2,307.0 505.5,305.7 508.9,303.4C512.2,301.2 515.5,297.3 518.9,294.7C522.2,292.2 525.5,290.3 528.9,288.2C532.2,286.1 535.5,283.5 538.9,282.2C542.2,280.9 545.6,282.0 548.9,280.3C552.2,278.6 555.6,274.0 558.9,272.2C562.2,270.3 567.2,269.5 568.9,269.0"/><path d="M408.8,389.2C410.5,388.1 415.5,384.7 418.8,382.4C422.1,380.1 425.5,377.9 428.8,375.4C432.1,372.9 435.5,370.5 438.8,367.5C442.2,364.6 445.5,360.7 448.8,357.6C452.2,354.6 455.5,352.2 458.8,349.2C462.2,346.2 465.5,342.4 468.8,339.8C472.2,337.1 475.5,335.3 478.8,333.2C482.2,331.2 485.5,328.2 488.9,327.4C492.2,326.6 495.5,329.2 498.9,328.5C502.2,327.9 505.5,325.3 508.9,323.6C512.2,321.9 515.5,319.8 518.9,318.2C522.2,316.6 525.5,315.6 528.9,313.9C532.2,312.2 535.5,309.5 538.9,307.9C542.2,306.3 545.6,305.4 548.9,304.2C552.2,302.9 555.6,301.3 558.9,300.3C562.2,299.4 567.2,298.7 568.9,298.3" stroke="#fff" stroke-opacity="0.4" stroke-width="3.5"/><path d="M408.8,389.2C410.5,388.1 415.5,384.7 418.8,382.4C422.1,380.1 425.5,377.9 428.8,375.4C432.1,372.9 435.5,370.5 438.8,367.5C442.2,364.6 445.5,360.7 448.8,357.6C452.2,354.6 455.5,352.2 458.8,349.2C462.2,346.2 465.5,342.4 468.8,339.8C472.2,337.1 475.5,335.3 478.8,333.2C482.2,331.2 485.5,328.2 488.9,327.4C492.2,326.6 495.5,329.2 498.9,328.5C502.2,327.9 505.5,325.3 508.9,323.6C512.2,321.9 515.5,319.8 518.9,318.2C522.2,316.6 525.5,315.6 528.9,313.9C532.2,312.2 535.5,309.5 538.9,307.9C542.2,306.3 545.6,305.4 548.9,304.2C552.2,302.9 555.6,301.3 558.9,300.3C562.2,299.4 567.2,298.7 568.9,298.3"/><path d="M408.8,389.2C410.5,387.7 415.5,383.0 418.8,380.0C422.1,377.0 425.5,374.1 428.8,371.0C432.1,367.9 435.5,364.6 438.8,361.3C442.2,358.0 445.5,354.9 448.8,351.2C452.2,347.5 455.5,342.8 458.8,339.1C462.2,335.5 465.5,331.8 468.8,329.1C472.2,326.3 475.5,324.8 478.8,322.5C482.2,320.2 485.5,317.5 488.9,315.3C492.2,313.1 495.5,311.0 498.9,309.2C502.2,307.4 505.5,306.7 508.9,304.4C512.2,302.0 515.5,297.0 518.9,295.1C522.2,293.2 525.5,293.7 528.9,292.9C532.2,292.1 535.5,291.9 538.9,290.4C542.2,288.9 545.6,285.7 548.9,283.9C552.2,282.0 555.6,280.3 558.9,279.3C562.2,278.3 567.2,278.1 568.9,277.8" stroke="#fff" stroke-opacity="0.4" stroke-width="3.5"/><path d="M408.8,389.2C410.5,387.7 415.5,383.0 418.8,380.0C422.1,377.0 425.5,374.1 428.8,371.0C432.1,367.9 435.5,364.6 438.8,361.3C442.2,358.0 445.5,354.9 448.8,351.2C452.2,347.5 455.5,342.8 458.8,339.1C462.2,335.5 465.5,331.8 468.8,329.1C472.2,326.3 475.5,324.8 478.8,322.5C482.2,320.2 485.5,317.5 488.9,315.3C492.2,313.1 495.5,311.0 498.9,309.2C502.2,307.4 505.5,306.7 508.9,304.4C512.2,302.0 515.5,297.0 518.9,295.1C522.2,293.2 525.5,293.7 528.9,292.9C532.2,292.1 535.5,291.9 538.9,290.4C542.2,288.9 545.6,285.7 548.9,283.9C552.2,282.0 555.6,280.3 558.9,279.3C562.2,278.3 567.2,278.1 568.9,277.8"/><path d="M408.8,389.2C410.5,387.1 415.5,380.7 418.8,376.6C422.1,372.4 425.5,368.2 428.8,364.1C432.1,360.1 435.5,356.0 438.8,352.1C442.2,348.2 445.5,344.8 448.8,341.0C452.2,337.1 455.5,332.7 458.8,328.9C462.2,325.1 465.5,321.6 468.8,318.0C472.2,314.4 475.5,310.0 478.8,307.1C482.2,304.2 485.5,302.5 488.9,300.6C492.2,298.6 495.5,297.9 498.9,295.4C502.2,293.0 505.5,287.5 508.9,285.7C512.2,283.8 515.5,285.7 518.9,284.3C522.2,282.8 525.5,279.6 528.9,276.8C532.2,274.0 535.5,270.3 538.9,267.4C542.2,264.6 545.6,262.0 548.9,259.5C552.2,257.1 555.6,254.7 558.9,252.5C562.2,250.3 567.2,247.2 568.9,246.1" stroke="#fff" stroke-opacity="0.4" stroke-width="3.5"/><path d="M408.8,389.2C410.5,387.1 415.5,380.7 418.8,376.6C422.1,372.4 425.5,368.2 428.8,364.1C432.1,360.1 435.5,356.0 438.8,352.1C442.2,348.2 445.5,344.8 448.8,341.0C452.2,337.1 455.5,332.7 458.8,328.9C462.2,325.1 465.5,321.6 468.8,318.0C472.2,314.4 475.5,310.0 478.8,307.1C482.2,304.2 485.5,302.5 488.9,300.6C492.2,298.6 495.5,297.9 498.9,295.4C502.2,293.0 505.5,287.5 508.9,285.7C512.2,283.8 515.5,285.7 518.9,284.3C522.2,282.8 525.5,279.6 528.9,276.8C532.2,274.0 535.5,270.3 538.9,267.4C542.2,264.6 545.6,262.0 548.9,259.5C552.2,257.1 555.6,254.7 558.9,252.5C562.2,250.3 567.2,247.2 568.9,246.1"/><path d="M408.8,389.2C410.5,388.8 415.5,388.0 418.8,387.0C422.1,385.9 425.5,384.6 428.8,383.1C432.1,381.6 435.5,380.0 438.8,377.7C442.2,375.4 445.5,372.3 448.8,369.2C452.2,366.1 455.5,362.2 458.8,359.1C462.2,356.0 465.5,353.4 468.8,350.4C472.2,347.4 475.5,344.0 478.8,341.1C482.2,338.1 485.5,334.8 488.9,332.9C492.2,330.9 495.5,330.7 498.9,329.6C502.2,328.5 505.5,327.1 508.9,326.0C512.2,324.9 515.5,323.4 518.9,323.1C522.2,322.9 525.5,325.1 528.9,324.3C532.2,323.5 535.5,320.4 538.9,318.3C542.2,316.3 545.6,312.5 548.9,312.0C552.2,311.4 555.6,314.8 558.9,315.0C562.2,315.3 567.2,313.6 568.9,313.3" stroke="#fff" stroke-opacity="0.4" stroke-width="3.5"/><path d="M408.8,389.2C410.5,388.8 415.5,388.0 418.8,387.0C422.1,385.9 425.5,384.6 428.8,383.1C432.1,381.6 435.5,380.0 438.8,377.7C442.2,375.4 445.5,372.3 448.8,369.2C452.2,366.1 455.5,362.2 458.8,359.1C462.2,356.0 465.5,353.4 468.8,350.4C472.2,347.4 475.5,344.0 478.8,341.1C482.2,338.1 485.5,334.8 488.9,332.9C492.2,330.9 495.5,330.7 498.9,329.6C502.2,328.5 505.5,327.1 508.9,326.0C512.2,324.9 515.5,323.4 518.9,323.1C522.2,322.9 525.5,325.1 528.9,324.3C532.2,323.5 535.5,320.4 538.9,318.3C542.2,316.3 545.6,312.5 548.9,312.0C552.2,311.4 555.6,314.8 558.9,315.0C562.2,315.3 567.2,313.6 568.9,313.3"/><path d="M408.8,389.2C410.5,385.9 415.5,375.9 418.8,369.6C422.1,363.4 425.5,357.4 428.8,351.8C432.1,346.1 435.5,340.8 438.8,335.8C442.2,330.8 445.5,326.5 448.8,321.7C452.2,317.0 455.5,312.7 458.8,307.5C462.2,302.4 465.5,296.1 468.8,290.8C472.2,285.4 475.5,279.0 478.8,275.4C482.2,271.7 485.5,271.4 488.9,268.9C492.2,266.3 495.5,262.1 498.9,260.3C502.2,258.4 505.5,259.0 508.9,257.7C512.2,256.4 515.5,254.6 518.9,252.3C522.2,250.0 525.5,246.2 528.9,243.8C532.2,241.4 535.5,240.4 538.9,237.9C542.2,235.5 545.6,231.7 548.9,229.1C552.2,226.4 555.6,223.6 558.9,222.1C562.2,220.5 567.2,219.9 568.9,219.5" stroke="#fff" stroke-opacity="0.4" stroke-width="3.5"/><path d="M408.8,389.2C410.5,385.9 415.5,375.9 418.8,369.6C422.1,363.4 425.5,357.4 428.8,351.8C432.1,346.1 435.5,340.8 438.8,335.8C442.2,330.8 445.5,326.5 448.8,321.7C452.2,317.0 455.5,312.7 458.8,307.5C462.2,302.4 465.5,296.1 468.8,290.8C472.2,285.4 475.5,279.0 478.8,275.4C482.2,271.7 485.5,271.4 488.9,268.9C492.2,266.3 495.5,262.1 498.9,260.3C502.2,258.4 505.5,259.0 508.9,257.7C512.2,256.4 515.5,254.6 518.9,252.3C522.2,250.0 525.5,246.2 528.9,243.8C532.2,241.4 535.5,240.4 538.9,237.9C542.2,235.5 545.6,231.7 548.9,229.1C552.2,226.4 555.6,223.6 558.9,222.1C562.2,220.5 567.2,219.9 568.9,219.5"/><path d="M408.8,389.2C410.5,387.5 415.5,382.3 418.8,378.8C422.1,375.3 425.5,371.9 428.8,368.3C432.1,364.8 435.5,361.3 438.8,357.7C442.2,354.1 445.5,350.4 448.8,346.6C452.2,342.7 455.5,338.4 458.8,334.7C462.2,331.0 465.5,327.7 468.8,324.1C472.2,320.6 475.5,316.9 478.8,313.6C482.2,310.2 485.5,307.0 488.9,304.3C492.2,301.5 495.5,298.8 498.9,297.2C502.2,295.7 505.5,295.8 508.9,295.0C512.2,294.2 515.5,293.6 518.9,292.3C522.2,290.9 525.5,289.0 528.9,287.0C532.2,285.0 535.5,282.0 538.9,280.2C542.2,278.3 545.6,276.8 548.9,276.1C552.2,275.3 555.6,276.9 558.9,275.6C562.2,274.3 567.2,269.4 568.9,268.1" stroke="#fff" stroke-opacity="0.4" stroke-width="3.5"/><path d="M408.8,389.2C410.5,387.5 415.5,382.3 418.8,378.8C422.1,375.3 425.5,371.9 428.8,368.3C432.1,364.8 435.5,361.3 438.8,357.7C442.2,354.1 445.5,350.4 448.8,346.6C452.2,342.7 455.5,338.4 458.8,334.7C462.2,331.0 465.5,327.7 468.8,324.1C472.2,320.6 475.5,316.9 478.8,313.6C482.2,310.2 485.5,307.0 488.9,304.3C492.2,301.5 495.5,298.8 498.9,297.2C502.2,295.7 505.5,295.8 508.9,295.0C512.2,294.2 515.5,293.6 518.9,292.3C522.2,290.9 525.5,289.0 528.9,287.0C532.2,285.0 535.5,282.0 538.9,280.2C542.2,278.3 545.6,276.8 548.9,276.1C552.2,275.3 555.6,276.9 558.9,275.6C562.2,274.3 567.2,269.4 568.9,268.1"/><path d="M408.8,389.2C410.5,388.5 415.5,386.7 418.8,385.3C422.1,383.8 425.5,382.4 428.8,380.5C432.1,378.5 435.5,376.2 438.8,373.8C442.2,371.3 445.5,368.5 448.8,365.8C452.2,363.1 455.5,360.3 458.8,357.5C462.2,354.6 465.5,351.8 468.8,348.7C472.2,345.5 475.5,341.2 478.8,338.4C482.2,335.7 485.5,333.7 488.9,332.0C492.2,330.3 495.5,330.0 498.9,328.4C502.2,326.7 505.5,323.5 508.9,322.1C512.2,320.6 515.5,320.8 518.9,319.6C522.2,318.4 525.5,316.2 528.9,314.8C532.2,313.5 535.5,312.9 538.9,311.4C542.2,309.9 545.6,306.6 548.9,305.9C552.2,305.1 555.6,307.5 558.9,307.1C562.2,306.6 567.2,304.0 568.9,303.4" stroke="#fff" stroke-opacity="0.4" stroke-width="3.5"/><path d="M408.8,389.2C410.5,388.5 415.5,386.7 418.8,385.3C422.1,383.8 425.5,382.4 428.8,380.5C432.1,378.5 435.5,376.2 438.8,373.8C442.2,371.3 445.5,368.5 448.8,365.8C452.2,363.1 455.5,360.3 458.8,357.5C462.2,354.6 465.5,351.8 468.8,348.7C472.2,345.5 475.5,341.2 478.8,338.4C482.2,335.7 485.5,333.7 488.9,332.0C492.2,330.3 495.5,330.0 498.9,328.4C502.2,326.7 505.5,323.5 508.9,322.1C512.2,320.6 515.5,320.8 518.9,319.6C522.2,318.4 525.5,316.2 528.9,314.8C532.2,313.5 535.5,312.9 538.9,311.4C542.2,309.9 545.6,306.6 548.9,305.9C552.2,305.1 555.6,307.5 558.9,307.1C562.2,306.6 567.2,304.0 568.9,303.4"/><path d="M408.8,389.2C410.5,386.4 415.5,377.6 418.8,372.1C422.1,366.6 425.5,361.2 428.8,356.2C432.1,351.2 435.5,346.6 438.8,342.0C442.2,337.5 445.5,333.3 448.8,328.9C452.2,324.5 455.5,320.3 458.8,315.8C462.2,311.3 465.5,306.1 468.8,301.8C472.2,297.6 475.5,293.3 478.8,290.2C482.2,287.1 485.5,285.9 488.9,283.1C492.2,280.2 495.5,275.8 498.9,273.1C502.2,270.4 505.5,268.3 508.9,266.7C512.2,265.2 515.5,265.5 518.9,263.9C522.2,262.4 525.5,259.2 528.9,257.4C532.2,255.6 535.5,255.6 538.9,253.3C542.2,251.1 545.6,246.9 548.9,244.0C552.2,241.1 555.6,237.4 558.9,236.0C562.2,234.6 567.2,235.6 568.9,235.6" stroke="#fff" stroke-opacity="0.4" stroke-width="3.5"/><path d="M408.8,389.2C410.5,386.4 415.5,377.6 418.8,372.1C422.1,366.6 425.5,361.2 428.8,356.2C432.1,351.2 435.5,346.6 438.8,342.0C442.2,337.5 445.5,333.3 448.8,328.9C452.2,324.5 455.5,320.3 458.8,315.8C462.2,311.3 465.5,306.1 468.8,301.8C472.2,297.6 475.5,293.3 478.8,290.2C482.2,287.1 485.5,285.9 488.9,283.1C492.2,280.2 495.5,275.8 498.9,273.1C502.2,270.4 505.5,268.3 508.9,266.7C512.2,265.2 515.5,265.5 518.9,263.9C522.2,262.4 525.5,259.2 528.9,257.4C532.2,255.6 535.5,255.6 538.9,253.3C542.2,251.1 545.6,246.9 548.9,244.0C552.2,241.1 555.6,237.4 558.9,236.0C562.2,234.6 567.2,235.6 568.9,235.6"/><path d="M408.8,389.2C410.5,387.1 415.5,380.9 418.8,376.9C422.1,372.8 425.5,368.9 428.8,364.7C432.1,360.6 435.5,356.2 438.8,352.0C442.2,347.9 445.5,343.7 448.8,339.6C452.2,335.6 455.5,331.7 458.8,327.8C462.2,324.0 465.5,320.4 468.8,316.6C472.2,312.7 475.5,307.6 478.8,304.8C482.2,302.1 485.5,302.1 488.9,300.1C492.2,298.2 495.5,295.4 498.9,293.2C502.2,290.9 505.5,289.1 508.9,286.6C512.2,284.2 515.5,280.5 518.9,278.5C522.2,276.4 525.5,276.1 528.9,274.5C532.2,272.8 535.5,269.6 538.9,268.5C542.2,267.3 545.6,269.1 548.9,267.5C552.2,265.9 555.6,260.4 558.9,258.9C562.2,257.5 567.2,258.9 568.9,258.9" stroke="#fff" stroke-opacity="0.4" stroke-width="3.5"/><path d="M408.8,389.2C410.5,387.1 415.5,380.9 418.8,376.9C422.1,372.8 425.5,368.9 428.8,364.7C432.1,360.6 435.5,356.2 438.8,352.0C442.2,347.9 445.5,343.7 448.8,339.6C452.2,335.6 455.5,331.7 458.8,327.8C462.2,324.0 465.5,320.4 468.8,316.6C472.2,312.7 475.5,307.6 478.8,304.8C482.2,302.1 485.5,302.1 488.9,300.1C492.2,298.2 495.5,295.4 498.9,293.2C502.2,290.9 505.5,289.1 508.9,286.6C512.2,284.2 515.5,280.5 518.9,278.5C522.2,276.4 525.5,276.1 528.9,274.5C532.2,272.8 535.5,269.6 538.9,268.5C542.2,267.3 545.6,269.1 548.9,267.5C552.2,265.9 555.6,260.4 558.9,258.9C562.2,257.5 567.2,258.9 568.9,258.9"/><path d="M408.8,389.2C410.5,387.9 415.5,384.1 418.8,381.2C422.1,378.4 425.5,375.4 428.8,372.3C432.1,369.2 435.5,365.9 438.8,362.6C442.2,359.3 445.5,356.2 448.8,352.6C452.2,349.1 455.5,345.1 458.8,341.3C462.2,337.5 465.5,333.7 468.8,329.7C472.2,325.6 475.5,320.3 478.8,316.9C482.2,313.6 485.5,311.4 488.9,309.7C492.2,307.9 495.5,308.3 498.9,306.6C502.2,304.8 505.5,301.4 508.9,299.2C512.2,297.0 515.5,295.0 518.9,293.3C522.2,291.6 525.5,290.2 528.9,289.0C532.2,287.8 535.5,287.3 538.9,286.2C542.2,285.1 545.6,283.1 548.9,282.2C552.2,281.3 555.6,281.8 558.9,280.9C562.2,280.1 567.2,277.7 568.9,277.1" stroke="#fff" stroke-opacity="0.4" stroke-width="3.5"/><path d="M408.8,389.2C410.5,387.9 415.5,384.1 418.8,381.2C422.1,378.4 425.5,375.4 428.8,372.3C432.1,369.2 435.5,365.9 438.8,362.6C442.2,359.3 445.5,356.2 448.8,352.6C452.2,349.1 455.5,345.1 458.8,341.3C462.2,337.5 465.5,333.7 468.8,329.7C472.2,325.6 475.5,320.3 478.8,316.9C482.2,313.6 485.5,311.4 488.9,309.7C492.2,307.9 495.5,308.3 498.9,306.6C502.2,304.8 505.5,301.4 508.9,299.2C512.2,297.0 515.5,295.0 518.9,293.3C522.2,291.6 525.5,290.2 528.9,289.0C532.2,287.8 535.5,287.3 538.9,286.2C542.2,285.1 545.6,283.1 548.9,282.2C552.2,281.3 555.6,281.8 558.9,280.9C562.2,280.1 567.2,277.7 568.9,277.1"/><path d="M408.8,389.2C410.5,386.5 415.5,378.1 418.8,372.9C422.1,367.6 425.5,362.4 428.8,357.7C432.1,353.0 435.5,349.0 438.8,344.7C442.2,340.4 445.5,336.3 448.8,331.8C452.2,327.3 455.5,322.4 458.8,317.8C462.2,313.2 465.5,308.8 468.8,304.2C472.2,299.5 475.5,293.8 478.8,290.0C482.2,286.2 485.5,283.5 488.9,281.4C492.2,279.2 495.5,278.8 498.9,276.8C502.2,274.9 505.5,272.2 508.9,269.8C512.2,267.3 515.5,264.9 518.9,262.1C522.2,259.3 525.5,255.7 528.9,253.0C532.2,250.4 535.5,248.1 538.9,245.9C542.2,243.8 545.6,241.3 548.9,240.1C552.2,238.9 555.6,239.6 558.9,238.7C562.2,237.9 567.2,235.7 568.9,235.1" stroke="#fff" stroke-opacity="0.4" stroke-width="3.5"/><path d="M408.8,389.2C410.5,386.5 415.5,378.1 418.8,372.9C422.1,367.6 425.5,362.4 428.8,357.7C432.1,353.0 435.5,349.0 438.8,344.7C442.2,340.4 445.5,336.3 448.8,331.8C452.2,327.3 455.5,322.4 458.8,317.8C462.2,313.2 465.5,308.8 468.8,304.2C472.2,299.5 475.5,293.8 478.8,290.0C482.2,286.2 485.5,283.5 488.9,281.4C492.2,279.2 495.5,278.8 498.9,276.8C502.2,274.9 505.5,272.2 508.9,269.8C512.2,267.3 515.5,264.9 518.9,262.1C522.2,259.3 525.5,255.7 528.9,253.0C532.2,250.4 535.5,248.1 538.9,245.9C542.2,243.8 545.6,241.3 548.9,240.1C552.2,238.9 555.6,239.6 558.9,238.7C562.2,237.9 567.2,235.7 568.9,235.1"/><path d="M408.8,389.2C410.5,386.2 415.5,377.2 418.8,371.4C422.1,365.6 425.5,359.8 428.8,354.4C432.1,349.0 435.5,343.8 438.8,339.0C442.2,334.1 445.5,330.2 448.8,325.5C452.2,320.7 455.5,315.1 458.8,310.6C462.2,306.0 465.5,302.7 468.8,298.1C472.2,293.4 475.5,287.0 478.8,282.7C482.2,278.4 485.5,275.0 488.9,272.2C492.2,269.4 495.5,267.9 498.9,265.8C502.2,263.6 505.5,260.4 508.9,259.1C512.2,257.8 515.5,259.8 518.9,258.0C522.2,256.1 525.5,250.1 528.9,247.9C532.2,245.7 535.5,246.4 538.9,244.7C542.2,243.0 545.6,239.7 548.9,237.8C552.2,235.9 555.6,234.6 558.9,233.2C562.2,231.8 567.2,230.2 568.9,229.7" stroke="#fff" stroke-opacity="0.4" stroke-width="3.5"/><path d="M408.8,389.2C410.5,386.2 415.5,377.2 418.8,371.4C422.1,365.6 425.5,359.8 428.8,354.4C432.1,349.0 435.5,343.8 438.8,339.0C442.2,334.1 445.5,330.2 448.8,325.5C452.2,320.7 455.5,315.1 458.8,310.6C462.2,306.0 465.5,302.7 468.8,298.1C472.2,293.4 475.5,287.0 478.8,282.7C482.2,278.4 485.5,275.0 488.9,272.2C492.2,269.4 495.5,267.9 498.9,265.8C502.2,263.6 505.5,260.4 508.9,259.1C512.2,257.8 515.5,259.8 518.9,258.0C522.2,256.1 525.5,250.1 528.9,247.9C532.2,245.7 535.5,246.4 538.9,244.7C542.2,243.0 545.6,239.7 548.9,237.8C552.2,235.9 555.6,234.6 558.9,233.2C562.2,231.8 567.2,230.2 568.9,229.7"/><path d="M408.8,389.2C410.5,386.3 415.5,377.3 418.8,371.7C422.1,366.2 425.5,361.0 428.8,356.0C432.1,351.1 435.5,346.7 438.8,342.1C442.2,337.5 445.5,333.0 448.8,328.3C452.2,323.7 455.5,318.8 458.8,314.2C462.2,309.7 465.5,305.7 468.8,301.2C472.2,296.6 475.5,290.5 478.8,286.8C482.2,283.1 485.5,281.5 488.9,278.7C492.2,276.0 495.5,272.9 498.9,270.3C502.2,267.8 505.5,266.2 508.9,263.4C512.2,260.7 515.5,256.0 518.9,253.6C522.2,251.2 525.5,251.1 528.9,248.9C532.2,246.8 535.5,243.1 538.9,240.7C542.2,238.3 545.6,236.1 548.9,234.4C552.2,232.6 555.6,231.3 558.9,230.2C562.2,229.0 567.2,228.0 568.9,227.6" stroke="#fff" stroke-opacity="0.4" stroke-width="3.5"/><path d="M408.8,389.2C410.5,386.3 415.5,377.3 418.8,371.7C422.1,366.2 425.5,361.0 428.8,356.0C432.1,351.1 435.5,346.7 438.8,342.1C442.2,337.5 445.5,333.0 448.8,328.3C452.2,323.7 455.5,318.8 458.8,314.2C462.2,309.7 465.5,305.7 468.8,301.2C472.2,296.6 475.5,290.5 478.8,286.8C482.2,283.1 485.5,281.5 488.9,278.7C492.2,276.0 495.5,272.9 498.9,270.3C502.2,267.8 505.5,266.2 508.9,263.4C512.2,260.7 515.5,256.0 518.9,253.6C522.2,251.2 525.5,251.1 528.9,248.9C532.2,246.8 535.5,243.1 538.9,240.7C542.2,238.3 545.6,236.1 548.9,234.4C552.2,232.6 555.6,231.3 558.9,230.2C562.2,229.0 567.2,228.0 568.9,227.6"/><path d="M408.8,389.2C410.5,386.1 415.5,376.5 418.8,370.5C422.1,364.5 425.5,358.8 428.8,353.3C432.1,347.7 435.5,342.3 438.8,337.3C442.2,332.3 445.5,327.4 448.8,323.0C452.2,318.7 455.5,315.5 458.8,311.2C462.2,306.9 465.5,301.7 468.8,297.2C472.2,292.7 475.5,287.9 478.8,284.0C482.2,280.2 485.5,276.7 488.9,274.1C492.2,271.4 495.5,270.6 498.9,268.3C502.2,265.9 505.5,262.1 508.9,260.2C512.2,258.2 515.5,258.0 518.9,256.3C522.2,254.7 525.5,252.5 528.9,250.2C532.2,247.8 535.5,244.6 538.9,242.0C542.2,239.4 545.6,236.6 548.9,234.6C552.2,232.6 555.6,231.5 558.9,230.1C562.2,228.7 567.2,226.7 568.9,226.0" stroke="#fff" stroke-opacity="0.4" stroke-width="3.5"/><path d="M408.8,389.2C410.5,386.1 415.5,376.5 418.8,370.5C422.1,364.5 425.5,358.8 428.8,353.3C432.1,347.7 435.5,342.3 438.8,337.3C442.2,332.3 445.5,327.4 448.8,323.0C452.2,318.7 455.5,315.5 458.8,311.2C462.2,306.9 465.5,301.7 468.8,297.2C472.2,292.7 475.5,287.9 478.8,284.0C482.2,280.2 485.5,276.7 488.9,274.1C492.2,271.4 495.5,270.6 498.9,268.3C502.2,265.9 505.5,262.1 508.9,260.2C512.2,258.2 515.5,258.0 518.9,256.3C522.2,254.7 525.5,252.5 528.9,250.2C532.2,247.8 535.5,244.6 538.9,242.0C542.2,239.4 545.6,236.6 548.9,234.6C552.2,232.6 555.6,231.5 558.9,230.1C562.2,228.7 567.2,226.7 568.9,226.0"/><path d="M408.8,389.2C410.5,386.9 415.5,379.8 418.8,375.3C422.1,370.8 425.5,366.5 428.8,362.3C432.1,358.1 435.5,354.0 438.8,350.0C442.2,346.0 445.5,342.3 448.8,338.3C452.2,334.3 455.5,329.6 458.8,325.8C462.2,322.0 465.5,319.2 468.8,315.5C472.2,311.7 475.5,306.8 478.8,303.5C482.2,300.2 485.5,297.9 488.9,295.7C492.2,293.5 495.5,293.0 498.9,290.3C502.2,287.7 505.5,282.6 508.9,279.9C512.2,277.1 515.5,276.6 518.9,273.9C522.2,271.3 525.5,266.6 528.9,264.0C532.2,261.5 535.5,259.7 538.9,258.6C542.2,257.5 545.6,257.6 548.9,257.2C552.2,256.9 555.6,256.9 558.9,256.7C562.2,256.4 567.2,255.9 568.9,255.7" stroke="#fff" stroke-opacity="0.4" stroke-width="3.5"/><path d="M408.8,389.2C410.5,386.9 415.5,379.8 418.8,375.3C422.1,370.8 425.5,366.5 428.8,362.3C432.1,358.1 435.5,354.0 438.8,350.0C442.2,346.0 445.5,342.3 448.8,338.3C452.2,334.3 455.5,329.6 458.8,325.8C462.2,322.0 465.5,319.2 468.8,315.5C472.2,311.7 475.5,306.8 478.8,303.5C482.2,300.2 485.5,297.9 488.9,295.7C492.2,293.5 495.5,293.0 498.9,290.3C502.2,287.7 505.5,282.6 508.9,279.9C512.2,277.1 515.5,276.6 518.9,273.9C522.2,271.3 525.5,266.6 528.9,264.0C532.2,261.5 535.5,259.7 538.9,258.6C542.2,257.5 545.6,257.6 548.9,257.2C552.2,256.9 555.6,256.9 558.9,256.7C562.2,256.4 567.2,255.9 568.9,255.7"/><path d="M408.8,389.2C410.5,386.6 415.5,378.6 418.8,373.5C422.1,368.3 425.5,363.3 428.8,358.4C432.1,353.5 435.5,348.7 438.8,344.1C442.2,339.6 445.5,335.5 448.8,331.1C452.2,326.8 455.5,322.4 458.8,318.0C462.2,313.5 465.5,309.5 468.8,304.6C472.2,299.7 475.5,292.9 478.8,288.5C482.2,284.1 485.5,281.2 488.9,278.2C492.2,275.2 495.5,273.3 498.9,270.5C502.2,267.8 505.5,264.3 508.9,261.9C512.2,259.6 515.5,258.9 518.9,256.6C522.2,254.3 525.5,250.7 528.9,248.0C532.2,245.2 535.5,241.9 538.9,240.0C542.2,238.0 545.6,237.7 548.9,236.2C552.2,234.7 555.6,231.8 558.9,231.0C562.2,230.2 567.2,231.3 568.9,231.3" stroke="#fff" stroke-opacity="0.4" stroke-width="3.5"/><path d="M408.8,389.2C410.5,386.6 415.5,378.6 418.8,373.5C422.1,368.3 425.5,363.3 428.8,358.4C432.1,353.5 435.5,348.7 438.8,344.1C442.2,339.6 445.5,335.5 448.8,331.1C452.2,326.8 455.5,322.4 458.8,318.0C462.2,313.5 465.5,309.5 468.8,304.6C472.2,299.7 475.5,292.9 478.8,288.5C482.2,284.1 485.5,281.2 488.9,278.2C492.2,275.2 495.5,273.3 498.9,270.5C502.2,267.8 505.5,264.3 508.9,261.9C512.2,259.6 515.5,258.9 518.9,256.6C522.2,254.3 525.5,250.7 528.9,248.0C532.2,245.2 535.5,241.9 538.9,240.0C542.2,238.0 545.6,237.7 548.9,236.2C552.2,234.7 555.6,231.8 558.9,231.0C562.2,230.2 567.2,231.3 568.9,231.3"/><path d="M408.8,389.2C410.5,387.9 415.5,384.0 418.8,381.2C422.1,378.5 425.5,375.5 428.8,372.7C432.1,369.9 435.5,367.5 438.8,364.4C442.2,361.3 445.5,358.1 448.8,354.3C452.2,350.5 455.5,345.7 458.8,341.5C462.2,337.4 465.5,332.9 468.8,329.2C472.2,325.6 475.5,322.5 478.8,319.6C482.2,316.6 485.5,313.7 488.9,311.6C492.2,309.6 495.5,308.6 498.9,307.0C502.2,305.4 505.5,304.0 508.9,302.1C512.2,300.2 515.5,297.4 518.9,295.6C522.2,293.8 525.5,292.8 528.9,291.4C532.2,290.0 535.5,288.4 538.9,287.3C542.2,286.1 545.6,285.2 548.9,284.5C552.2,283.8 555.6,283.8 558.9,283.1C562.2,282.5 567.2,280.9 568.9,280.5" stroke="#fff" stroke-opacity="0.4" stroke-width="3.5"/><path d="M408.8,389.2C410.5,387.9 415.5,384.0 418.8,381.2C422.1,378.5 425.5,375.5 428.8,372.7C432.1,369.9 435.5,367.5 438.8,364.4C442.2,361.3 445.5,358.1 448.8,354.3C452.2,350.5 455.5,345.7 458.8,341.5C462.2,337.4 465.5,332.9 468.8,329.2C472.2,325.6 475.5,322.5 478.8,319.6C482.2,316.6 485.5,313.7 488.9,311.6C492.2,309.6 495.5,308.6 498.9,307.0C502.2,305.4 505.5,304.0 508.9,302.1C512.2,300.2 515.5,297.4 518.9,295.6C522.2,293.8 525.5,292.8 528.9,291.4C532.2,290.0 535.5,288.4 538.9,287.3C542.2,286.1 545.6,285.2 548.9,284.5C552.2,283.8 555.6,283.8 558.9,283.1C562.2,282.5 567.2,280.9 568.9,280.5"/><path d="M408.8,389.2C410.5,387.7 415.5,383.3 418.8,380.2C422.1,377.1 425.5,374.1 428.8,370.8C432.1,367.4 435.5,363.8 438.8,360.2C442.2,356.5 445.5,352.4 448.8,348.9C452.2,345.4 455.5,342.6 458.8,339.1C462.2,335.6 465.5,331.2 468.8,328.0C472.2,324.8 475.5,322.2 478.8,319.8C482.2,317.5 485.5,316.2 488.9,314.0C492.2,311.9 495.5,309.0 498.9,307.0C502.2,304.9 505.5,304.0 508.9,301.6C512.2,299.2 515.5,294.8 518.9,292.6C522.2,290.5 525.5,290.4 528.9,288.5C532.2,286.7 535.5,283.7 538.9,281.5C542.2,279.3 545.6,277.8 548.9,275.4C552.2,273.0 555.6,268.5 558.9,267.1C562.2,265.7 567.2,267.0 568.9,266.9" stroke="#fff" stroke-opacity="0.4" stroke-width="3.5"/><path d="M408.8,389.2C410.5,387.7 415.5,383.3 418.8,380.2C422.1,377.1 425.5,374.1 428.8,370.8C432.1,367.4 435.5,363.8 438.8,360.2C442.2,356.5 445.5,352.4 448.8,348.9C452.2,345.4 455.5,342.6 458.8,339.1C462.2,335.6 465.5,331.2 468.8,328.0C472.2,324.8 475.5,322.2 478.8,319.8C482.2,317.5 485.5,316.2 488.9,314.0C492.2,311.9 495.5,309.0 498.9,307.0C502.2,304.9 505.5,304.0 508.9,301.6C512.2,299.2 515.5,294.8 518.9,292.6C522.2,290.5 525.5,290.4 528.9,288.5C532.2,286.7 535.5,283.7 538.9,281.5C542.2,279.3 545.6,277.8 548.9,275.4C552.2,273.0 555.6,268.5 558.9,267.1C562.2,265.7 567.2,267.0 568.9,266.9"/><path d="M408.8,389.2C410.5,387.0 415.5,380.4 418.8,376.2C422.1,372.0 425.5,368.1 428.8,364.0C432.1,360.0 435.5,355.9 438.8,351.8C442.2,347.8 445.5,343.9 448.8,339.7C452.2,335.4 455.5,330.7 458.8,326.5C462.2,322.2 465.5,317.9 468.8,314.1C472.2,310.2 475.5,305.9 478.8,303.3C482.2,300.7 485.5,300.3 488.9,298.4C492.2,296.6 495.5,294.3 498.9,292.0C502.2,289.7 505.5,286.8 508.9,284.7C512.2,282.5 515.5,281.2 518.9,279.2C522.2,277.2 525.5,274.4 528.9,272.5C532.2,270.6 535.5,269.3 538.9,268.1C542.2,266.8 545.6,266.3 548.9,264.8C552.2,263.4 555.6,260.4 558.9,259.2C562.2,258.0 567.2,257.9 568.9,257.7" stroke="#fff" stroke-opacity="0.4" stroke-width="3.5"/><path d="M408.8,389.2C410.5,387.0 415.5,380.4 418.8,376.2C422.1,372.0 425.5,368.1 428.8,364.0C432.1,360.0 435.5,355.9 438.8,351.8C442.2,347.8 445.5,343.9 448.8,339.7C452.2,335.4 455.5,330.7 458.8,326.5C462.2,322.2 465.5,317.9 468.8,314.1C472.2,310.2 475.5,305.9 478.8,303.3C482.2,300.7 485.5,300.3 488.9,298.4C492.2,296.6 495.5,294.3 498.9,292.0C502.2,289.7 505.5,286.8 508.9,284.7C512.2,282.5 515.5,281.2 518.9,279.2C522.2,277.2 525.5,274.4 528.9,272.5C532.2,270.6 535.5,269.3 538.9,268.1C542.2,266.8 545.6,266.3 548.9,264.8C552.2,263.4 555.6,260.4 558.9,259.2C562.2,258.0 567.2,257.9 568.9,257.7"/><path d="M408.8,389.2C410.7,385.8 415.9,375.7 420.0,368.5C424.1,361.3 428.3,354.2 433.3,346.0C438.3,337.8 444.4,328.2 450.0,319.5C455.6,310.8 461.7,301.9 466.7,294.0C471.7,286.1 475.4,277.8 480.0,272.2C484.6,266.6 489.7,264.2 494.6,260.6C499.5,257.0 504.3,253.8 509.2,250.4C514.0,247.0 518.9,243.8 523.7,240.2C528.6,236.5 533.4,232.4 538.3,228.5C543.2,224.6 547.8,220.6 552.9,216.9C558.0,213.2 566.2,208.3 568.9,206.6" stroke="#8b8f93" stroke-opacity="0.9" stroke-width="2.0"/><path d="M408.8,389.2C410.7,385.7 416.0,375.3 420.0,368.0C424.0,360.7 428.0,354.2 433.0,345.5C438.0,336.8 444.5,325.2 450.0,316.0C455.5,306.8 461.0,298.0 466.0,290.0C471.0,282.0 475.2,273.8 480.0,267.9C484.8,262.0 489.7,259.7 494.6,254.8C499.5,249.9 504.3,244.5 509.2,238.7C514.0,232.9 518.9,225.6 523.7,219.8C528.6,214.0 533.4,208.3 538.3,203.7C543.2,199.1 547.8,196.9 552.9,192.1C558.0,187.2 566.2,177.5 568.9,174.6" stroke="#96999c" stroke-opacity="0.9" stroke-width="2.0"/></g>
<path d="M408.8,389.2 L414,378.5 L420,367 L427,354 L433.3,344 L441,331 L450,318.5 L466.7,293.5 L480,274 L494.6,262 L509.2,252.5 L523.7,243.5 L538.3,233.5 L552.9,224.5 L569,217 L569,313 L550,317.5 L530,322.5 L516.7,329 L505,335.5 L496.7,340.8 L485,346 L471.7,353.3 L458.3,362.7 L449,370.4 L445,374 L438.3,378.7 L431.7,382.7 L418.3,387.3 L408.8,389.2Z" fill="url(#wg2)"/>
<line x1="66.2" x2="573.4" y1="370.2" y2="370.2" stroke="#000" stroke-width="2.1" stroke-dasharray="6.3 6.46" stroke-dashoffset="5.2"/>
<path d="M65.5,480.0C66.7,480.4 69.7,481.8 72.5,482.5C75.3,483.2 79.2,484.0 82.5,484.2C85.8,484.5 89.4,484.2 92.5,483.8C95.6,483.2 98.3,482.2 101.2,481.2C104.2,480.3 107.1,478.8 110.0,478.0C112.9,477.2 115.8,476.4 118.8,476.2C121.7,476.1 124.8,476.5 127.5,477.0C130.2,477.5 132.5,478.5 135.0,479.2C137.5,480.0 139.6,481.0 142.5,481.2C145.4,481.5 149.6,480.7 152.5,480.5C155.4,480.3 157.5,479.9 160.0,480.0C162.5,480.1 165.0,480.6 167.5,481.2C170.0,481.9 172.5,482.9 175.0,483.8C177.5,484.6 180.0,485.9 182.5,486.2C185.0,486.6 187.5,486.2 190.0,485.8C192.5,485.4 195.0,484.7 197.5,483.8C200.0,482.8 202.7,481.1 205.0,480.0C207.3,478.9 209.2,477.8 211.2,477.0C213.3,476.2 215.2,476.2 217.5,475.5C219.8,474.8 222.7,473.9 225.0,473.0C227.3,472.1 229.2,471.2 231.2,470.0C233.3,468.8 235.4,467.2 237.5,465.8C239.6,464.3 241.7,462.5 243.8,461.2C245.8,460.0 247.9,458.8 250.0,458.2C252.1,457.7 254.2,457.6 256.2,457.8C258.3,457.9 260.2,458.4 262.5,459.0C264.8,459.6 267.5,461.0 270.0,461.5C272.5,462.0 274.2,461.7 277.5,461.8C280.8,461.8 285.4,461.8 290.0,461.8C294.6,461.7 301.7,461.9 305.0,461.5C308.3,461.1 307.9,460.6 310.0,459.5C312.1,458.4 315.0,456.6 317.5,455.0C320.0,453.4 322.4,451.9 325.0,450.0C327.6,448.1 330.8,445.5 333.3,443.8C335.8,442.1 337.5,441.0 340.0,439.7C342.5,438.4 345.8,437.3 348.3,435.8C350.8,434.3 352.5,432.6 355.0,430.8C357.5,429.0 360.8,426.8 363.3,425.0C365.8,423.2 367.8,421.8 370.0,420.3C372.2,418.8 374.5,417.1 376.7,415.8C378.9,414.5 381.4,413.6 383.3,412.5C385.2,411.4 386.6,410.7 388.3,409.2C390.0,407.7 391.6,405.2 393.3,403.3C395.0,401.4 396.6,399.2 398.3,397.5C400.0,395.8 401.6,394.7 403.3,393.3C405.1,391.9 407.9,389.9 408.8,389.2" fill="none" stroke="#fff" stroke-width="4.2" stroke-linejoin="round" stroke-linecap="round" opacity="0.85"/>
<path d="M65.5,480.0C66.7,480.4 69.7,481.8 72.5,482.5C75.3,483.2 79.2,484.0 82.5,484.2C85.8,484.5 89.4,484.2 92.5,483.8C95.6,483.2 98.3,482.2 101.2,481.2C104.2,480.3 107.1,478.8 110.0,478.0C112.9,477.2 115.8,476.4 118.8,476.2C121.7,476.1 124.8,476.5 127.5,477.0C130.2,477.5 132.5,478.5 135.0,479.2C137.5,480.0 139.6,481.0 142.5,481.2C145.4,481.5 149.6,480.7 152.5,480.5C155.4,480.3 157.5,479.9 160.0,480.0C162.5,480.1 165.0,480.6 167.5,481.2C170.0,481.9 172.5,482.9 175.0,483.8C177.5,484.6 180.0,485.9 182.5,486.2C185.0,486.6 187.5,486.2 190.0,485.8C192.5,485.4 195.0,484.7 197.5,483.8C200.0,482.8 202.7,481.1 205.0,480.0C207.3,478.9 209.2,477.8 211.2,477.0C213.3,476.2 215.2,476.2 217.5,475.5C219.8,474.8 222.7,473.9 225.0,473.0C227.3,472.1 229.2,471.2 231.2,470.0C233.3,468.8 235.4,467.2 237.5,465.8C239.6,464.3 241.7,462.5 243.8,461.2C245.8,460.0 247.9,458.8 250.0,458.2C252.1,457.7 254.2,457.6 256.2,457.8C258.3,457.9 260.2,458.4 262.5,459.0C264.8,459.6 267.5,461.0 270.0,461.5C272.5,462.0 274.2,461.7 277.5,461.8C280.8,461.8 285.4,461.8 290.0,461.8C294.6,461.7 301.7,461.9 305.0,461.5C308.3,461.1 307.9,460.6 310.0,459.5C312.1,458.4 315.0,456.6 317.5,455.0C320.0,453.4 322.4,451.9 325.0,450.0C327.6,448.1 330.8,445.5 333.3,443.8C335.8,442.1 337.5,441.0 340.0,439.7C342.5,438.4 345.8,437.3 348.3,435.8C350.8,434.3 352.5,432.6 355.0,430.8C357.5,429.0 360.8,426.8 363.3,425.0C365.8,423.2 367.8,421.8 370.0,420.3C372.2,418.8 374.5,417.1 376.7,415.8C378.9,414.5 381.4,413.6 383.3,412.5C385.2,411.4 386.6,410.7 388.3,409.2C390.0,407.7 391.6,405.2 393.3,403.3C395.0,401.4 396.6,399.2 398.3,397.5C400.0,395.8 401.6,394.7 403.3,393.3C405.1,391.9 407.9,389.9 408.8,389.2" fill="none" stroke="#e25d2c" stroke-width="2.4" stroke-linejoin="round" stroke-linecap="round"/>
<path d="M206.2,211.2H454.3V270.4L463.8,287.6L446.2,277.1H206.2Z" fill="#000"/>
<g class="t13 white">
<text x="216.4" y="230.5" textLength="208.6" lengthAdjust="spacingAndGlyphs">Simulations suggest the planet</text>
<text y="248"><tspan x="216.4" textLength="131.2" lengthAdjust="spacingAndGlyphs">might breach 1.5 °C</tspan> <tspan x="352.5" textLength="12.4" lengthAdjust="spacingAndGlyphs">—</tspan> <tspan x="369.4" textLength="47" lengthAdjust="spacingAndGlyphs">a major</tspan></text>
<text y="265.5"><tspan x="216.4" textLength="64.9" lengthAdjust="spacingAndGlyphs">milestone</tspan> <tspan x="286.3" textLength="12.4" lengthAdjust="spacingAndGlyphs">—</tspan> <tspan x="303.6" textLength="135.4" lengthAdjust="spacingAndGlyphs">between 2025–2037</tspan></text>
</g>
<g class="logo">
<text x="16.1" y="566.4" font-size="14.6" textLength="11.6" lengthAdjust="spacingAndGlyphs" stroke="#9b9b9b" stroke-width="0.35">©</text>
<text x="29.2" y="566.4" font-size="20.2" textLength="59.2" lengthAdjust="spacingAndGlyphs" stroke="#9b9b9b" stroke-width="0.3">nature</text>
</g>
</svg>
</body></html>
